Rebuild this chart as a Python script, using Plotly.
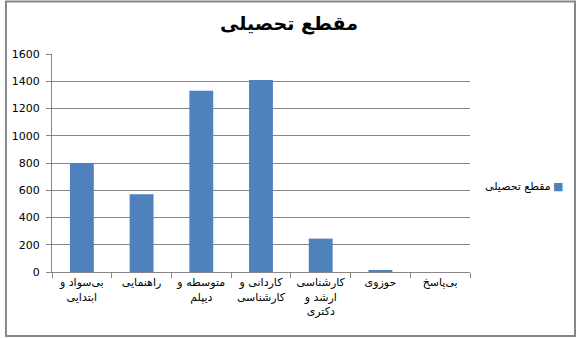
import plotly.graph_objects as go

categories = ["بی‌سواد و<br>ابتدایی", "راهنمایی", "متوسطه و<br>دیپلم", "کاردانی و<br>کارشناسی",
              "کارشناسی<br>ارشد و<br>دکتری", "حوزوی", "بی‌پاسخ"]
values = [800, 570, 1330, 1410, 245, 15, 0]
series_name = "مقطع تحصیلی"
title_text = "مقطع تحصیلی"

W, H = 578, 338
L, R, T, B = 48, 108, 54, 66
pw, ph = W - L - R, H - T - B

fig = go.Figure(go.Bar(x=categories, y=values, name=series_name, marker_color="#4F81BD",
                       marker_line_width=0, width=0.4, showlegend=False))

fig.update_layout(
    width=W, height=H,
    margin=dict(l=L, r=R, t=T, b=B),
    paper_bgcolor="white", plot_bgcolor="white",
    title=dict(text="<b>" + title_text + "</b>", x=0.5, xanchor="center", xref="container",
               y=1 - 23 / H, yanchor="middle",
               font=dict(family="DejaVu Sans", size=19, color="black")),
    font=dict(family="DejaVu Sans", size=11, color="black"),
)
fig.update_xaxes(showline=True, linecolor="#868686", linewidth=1, ticks="outside",
                 tickson="boundaries", ticklen=5, tickcolor="#868686",
                 tickfont=dict(size=11, color="black"), showgrid=False, fixedrange=True)
fig.update_yaxes(range=[0, 1600], dtick=200, showline=True, linecolor="#868686", linewidth=1,
                 ticks="outside", ticklen=5, tickcolor="#868686", gridcolor="#868686",
                 gridwidth=1, zeroline=False, tickfont=dict(size=11, color="black"),
                 ticklabelstandoff=4)

# legend-like annotation (marker to the right of the text, as in the reference)
fig.add_annotation(xref="paper", yref="paper", x=(566 - L) / pw, y=1 - (186 - T) / ph,
                   xanchor="right", yanchor="middle", showarrow=False,
                   text=series_name + "\u2009<span style='color:#4F81BD'>■</span>",
                   font=dict(size=11, color="black"))

# outer border of the chart area
fig.add_shape(type="rect", xref="paper", yref="paper",
              x0=(1.5 - L) / pw, x1=(W - 2 - L) / pw,
              y0=1 + (T - 1.5) / ph, y1=1 - (H - 2 - T) / ph,
              line=dict(color="#868686", width=2), fillcolor="rgba(0,0,0,0)", layer="above")

fig.write_html("out.html")
